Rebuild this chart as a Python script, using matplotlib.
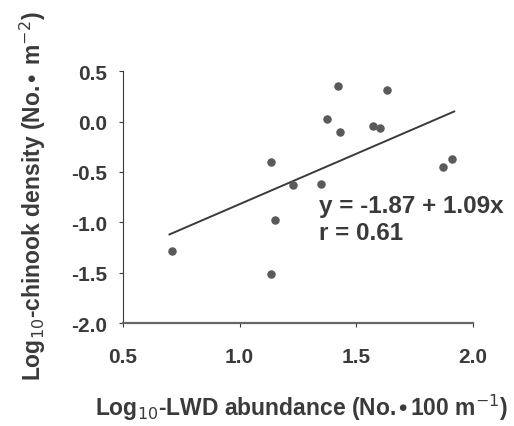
import matplotlib
matplotlib.use("Agg")
import matplotlib.pyplot as plt

# datos
lwd = [0.71, 1.135, 1.152, 1.135, 1.23, 1.35, 1.376, 1.42, 1.43, 1.57, 1.60, 1.63, 1.87, 1.91]
chinook = [-1.28, -0.40, -0.98, -1.51, -0.63, -0.62, 0.03, 0.35, -0.10, -0.04, -0.06, 0.31, -0.45, -0.37]

# recta de ajuste como esta dibujada
line_x = [0.70, 1.92]
line_y = [-1.12, 0.10]

xticks = [0.5, 1.0, 1.5, 2.0]
yticks = [0.5, 0.0, -0.5, -1.0, -1.5, -2.0]

plt.rcParams['font.family'] = ['Liberation Sans', 'DejaVu Sans']
gris = '#3a3a3a'

fig = plt.figure(figsize=(5.14, 4.27), dpi=100)
ax = fig.add_axes([0.239, 0.241, 0.681, 0.590])

ax.plot(line_x, line_y, color=gris, lw=1.4)
ax.scatter(lwd, chinook, s=26, color='#5a5a5a', zorder=3)

ax.set_xlim(0.5, 2.0)
ax.set_ylim(-2.0, 0.5)
ax.set_xticks(xticks)
ax.set_yticks(yticks)
ax.set_xticklabels(["%.1f" % t for t in xticks])
ax.set_yticklabels(["%.1f" % t for t in yticks])
ax.spines['top'].set_visible(False)
ax.spines['right'].set_visible(False)
ax.spines['left'].set_color(gris)
ax.spines['bottom'].set_color('#666666')
ax.spines['bottom'].set_linewidth(1.6)
ax.tick_params(direction='out', length=3, color=gris, labelsize=15,
               labelcolor=gris)
ax.tick_params(axis='y', pad=8)
ax.tick_params(axis='x', pad=14)
for lab in ax.get_xticklabels() + ax.get_yticklabels():
    lab.set_fontweight('bold')

ax.text(1.34, -0.90, "y = -1.87 + 1.09x", fontsize=17.5, fontweight='bold', color=gris)
ax.text(1.34, -1.17, "r = 0.61", fontsize=17.5, fontweight='bold', color=gris)

fig.text(0.064, 0.54, r"Log$_{10}$-chinook density (No.$\bullet$ m$^{-2}$)", rotation=90,
         ha='center', va='center', fontsize=16.5, fontweight='bold', color=gris)
fig.text(0.586, 0.045, r"Log$_{10}$-LWD abundance (No.$\bullet$100 m$^{-1}$)",
         ha='center', va='center', fontsize=16.5, fontweight='bold', color=gris)

plt.savefig("out.png", dpi=100)
